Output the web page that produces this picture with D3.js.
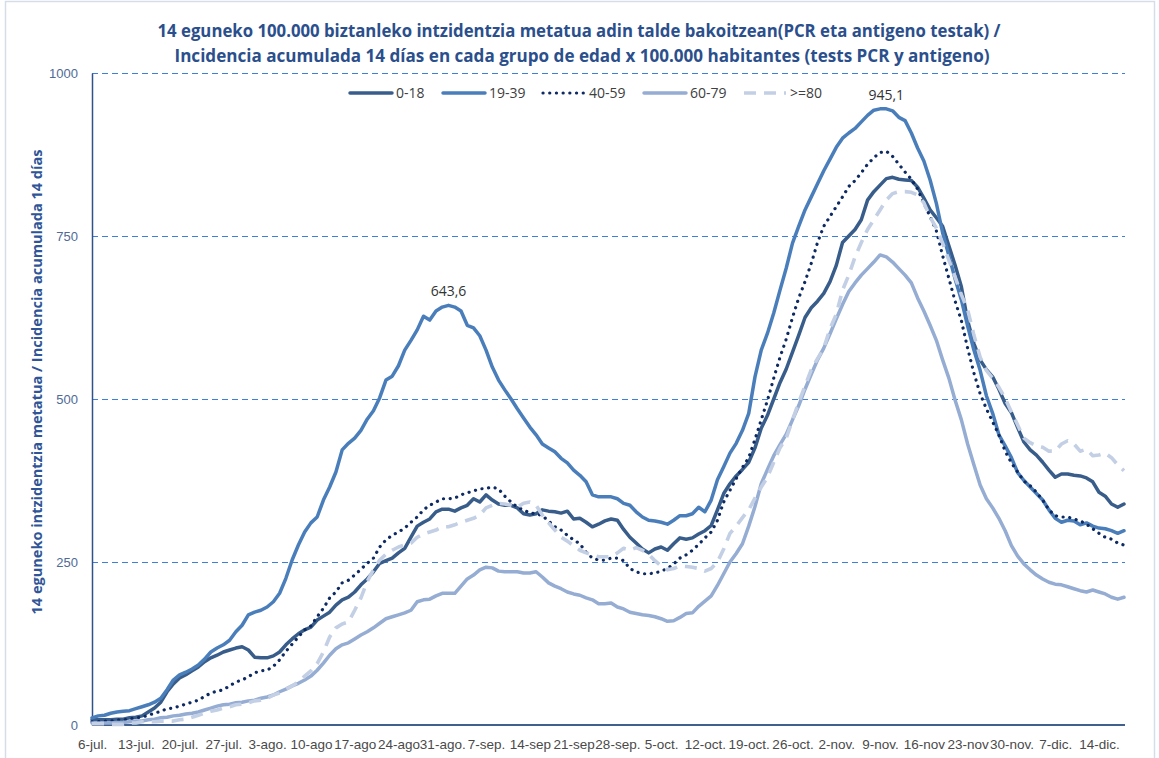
<!DOCTYPE html>
<html>
<head>
<meta charset="utf-8">
<script src="https://cdn.jsdelivr.net/npm/d3@7"></script>
<style>
  body { margin: 0; background: #fff; }
  svg { display: block; }
</style>
</head>
<body>
<div class="svg-container"></div>
<script>
// --- data (14-day incidence per 100.000, daily from 6-jul) ---
const seriesNames = ["0-18", "19-39", "40-59", "60-79", ">=80"];

const s0_18 = [8,8,8,8,9,9,11,12,14,20,
  26,35,51,63,72,77,83,89,97,103,
  107,112,115,118,120,115,104,103,103,106,
  112,123,132,140,146,150,161,167,173,184,
  192,196,204,215,224,235,248,252,256,264,
  271,288,305,311,316,327,331,331,328,333,
  337,347,342,353,345,339,337,337,333,324,
  322,324,330,328,327,325,328,316,317,311,
  304,308,313,316,314,300,
  288,279,270,264,270,273,268,278,287,285,287,293,298,306,
  330,355,370,382,392,403,425,455,475,500,525,546,572,598,625,640,650,662,680,705,740,750,760,775,805,818,
  828,838,840,837,836,835,825,808,790,778,765,735,705,672,620,585,560,545,534,515,493,
  479,456,434,422,414,403,391,380,385,385,383,382,379,373,357,351,339,334,339];

const s19_39 = [11,14,15,18,20,21,22,25,28,31,
  35,41,54,69,77,81,86,92,101,112,
  118,123,130,143,153,169,173,176,181,189,
  202,225,253,276,296,310,319,345,365,388,
  422,432,440,452,469,482,502,529,535,551,
  575,590,606,627,621,635,641,643.6,641,635,
  613,609,597,575,549,529,514,500,485,471,
  457,445,431,425,419,409,402,391,383,373,
  353,350,350,350,347,340,
  337,327,319,314,313,311,308,314,321,321,324,334,327,345,
  376,396,417,432,452,478,534,575,601,632,667,701,739,765,790,810,830,850,868,886,900,908,915,925,935,943,
  945,945.1,942,932,927,908,885,865,836,800,755,720,684,652,612,575,544,505,478,445,428,
  410,387,375,365,355,345,330,317,311,314,313,307,310,305,302,301,298,294,298];

const s40_59 = [5,5,6,6,8,8,9,11,12,15,
  18,21,25,26,29,32,35,38,44,49,
  52,54,60,66,69,74,80,83,84,90,
  100,113,124,135,146,152,166,179,195,204,
  218,222,230,239,248,256,273,284,291,296,
  302,311,319,330,337,342,347,347,348,353,
  356,359,362,363,365,362,351,342,334,330,
  325,324,321,313,304,299,291,284,278,265,
  256,253,253,256,256,252,
  240,235,232,232,233,236,240,247,256,261,268,277,287,296,
  314,342,360,378,395,410,438,468,498,532,564,592,625,655,680,708,740,765,780,795,810,826,835,847,860,870,
  878,880,872,860,848,837,822,800,780,758,720,685,650,620,578,540,508,485,465,445,420,
  402,388,374,367,357,345,330,321,319,319,316,313,308,301,294,288,285,279,276];

const s60_79 = [3,3,3,3,4,4,5,6,6,8,
  9,11,12,14,15,17,18,20,23,26,
  29,31,32,34,35,37,38,41,43,46,
  51,55,60,64,69,75,84,95,107,117,
  123,126,132,138,143,149,156,163,166,169,
  172,176,189,192,193,198,202,202,202,213,
  224,230,238,242,241,236,235,235,235,233,
  233,235,227,218,213,209,204,201,199,195,
  192,186,186,187,181,178,
  173,171,169,168,166,163,159,160,165,171,172,182,190,198,
  214,232,250,263,278,305,335,370,392,413,430,446,468,490,515,538,560,578,600,623,645,665,678,690,700,710,
  721,718,710,700,690,678,655,635,613,590,560,532,498,468,431,399,368,347,333,317,298,
  275,259,247,238,230,224,219,216,215,212,209,206,204,207,204,201,196,193,196];

const s80 = [2,2,2,1,1,1,3,3,5,5,
  5,6,6,6,8,9,12,15,18,21,
  23,26,28,31,32,34,37,38,41,46,
  49,55,60,66,75,83,94,112,135,149,
  155,158,176,195,220,238,253,262,268,273,
  276,279,288,293,296,299,304,304,307,311,
  314,317,322,333,337,340,339,337,334,340,
  342,337,322,310,299,288,282,275,268,264,
  261,258,258,258,264,271,
  268,272,268,262,252,244,238,240,244,243,242,240,236,240,
  250,270,294,305,318,330,348,365,380,403,425,440,468,495,520,545,562,578,608,630,667,690,718,740,760,775,
  790,805,815,818,818,817,813,801,779,762,739,713,687,660,637,598,564,544,532,518,501,
  480,460,440,433,428,426,420,420,431,436,431,420,423,413,414,417,410,399,390];

const tickLabels = ["6-jul.","13-jul.","20-jul.","27-jul.","3-ago.","10-ago","17-ago","24-ago",
  "31-ago.","7-sep.","14-sep","21-sep","28-sep.","5-oct.","12-oct.","19-oct.","26-oct.",
  "2-nov.","9-nov.","16-nov","23-nov","30-nov.","7-dic.","14-dic."];
const yTicks = [0, 250, 500, 750, 1000];
const peakLabels = [{serie: 1, text: "643,6", idx: 57}, {serie: 1, text: "945,1", idx: 127}];

const startDay = new Date(2020, 6, 6);
const days = d3.range(s0_18.length).map(i => d3.timeDay.offset(startDay, i));
const allSeries = [s0_18, s19_39, s40_59, s60_79, s80];

// --- chart ---
const width = 1159, height = 758;
const svg = d3.select(".svg-container").append("svg")
  .attr("width", width).attr("height", height);

svg.append("rect").attr("x", 5.5).attr("y", 1.5).attr("width", 1149).attr("height", 760)
  .attr("fill", "none").attr("stroke", "#d5dde9").attr("stroke-width", 1.5);

const x = d3.scaleTime().domain([days[0], days[days.length - 1]]).range([92, 1124]);
const y = d3.scaleLinear().domain([0, 1000]).range([725, 73]);

// gridlines
svg.append("g").selectAll("line")
  .data(yTicks.filter(d => d > 0))
  .enter().append("line")
  .attr("x1", 92).attr("x2", 1125)
  .attr("y1", d => y(d) + 0.5).attr("y2", d => y(d) + 0.5)
  .attr("stroke", "#3f7fdc").attr("stroke-width", 1)
  .attr("shape-rendering", "crispEdges")
  .attr("stroke-dasharray", "6 4");

// y axis
const yAxis = svg.append("g").attr("transform", "translate(92,0)")
  .call(d3.axisLeft(y).tickValues(yTicks).tickSize(0).tickPadding(14).tickFormat(d3.format("d")));
yAxis.select(".domain").attr("stroke", "#2f5289").attr("stroke-width", 1.5);
yAxis.selectAll("text").attr("font-family", "Liberation Sans Narrow, Arial Narrow, sans-serif")
  .attr("font-size", "13px").attr("fill", "#4f6a96");

// x axis
const tickDays = tickLabels.map((t, i) => days[i * 7]);
const xAxis = svg.append("g").attr("transform", "translate(0,725)")
  .call(d3.axisBottom(x).tickValues(tickDays).tickSize(0).tickPadding(14)
    .tickFormat((d, i) => tickLabels[i]));
xAxis.select(".domain").attr("d", "M92,0H1125").attr("stroke", "#40608e").attr("stroke-width", 2);
xAxis.selectAll("text").attr("font-family", "Liberation Sans Narrow, Arial Narrow, sans-serif")
  .attr("font-size", "13.5px").attr("fill", "#4a4a4a");

// lines
const styles = [
  {color: "#385d8a", w: 3.5, dash: null, cap: "round"},
  {color: "#4a7ebb", w: 3.5, dash: null, cap: "round"},
  {color: "#0e2a63", w: 3.2, dash: "0.1 6.6", cap: "round"},
  {color: "#95acd3", w: 3.5, dash: null, cap: "round"},
  {color: "#c3cfe4", w: 3.6, dash: "12 8", cap: "butt"}
];
const line = d3.line().x((d, i) => x(days[i])).y(d => y(d));

svg.append("g").selectAll("path")
  .data(allSeries)
  .enter().append("path")
  .attr("d", d => line(d))
  .attr("fill", "none")
  .attr("stroke", (d, i) => styles[i].color)
  .attr("stroke-width", (d, i) => styles[i].w)
  .attr("stroke-dasharray", (d, i) => styles[i].dash)
  .attr("stroke-linecap", (d, i) => styles[i].cap)
  .attr("stroke-linejoin", "round");

// peak labels
svg.append("g").selectAll("text")
  .data(peakLabels)
  .enter().append("text")
  .attr("x", d => x(days[d.idx]))
  .attr("y", d => y(allSeries[d.serie][d.idx]) - 9)
  .attr("text-anchor", "middle")
  .attr("font-family", "Open Sans, sans-serif").attr("font-size", "14px").attr("fill", "#333")
  .text(d => d.text);

// legend
const legendX = [350, 443, 543, 644, 744];
const lg = svg.append("g").selectAll("g")
  .data(seriesNames)
  .enter().append("g")
  .attr("transform", (d, i) => "translate(" + legendX[i] + ",93)");
lg.append("line").attr("x1", 0).attr("x2", 42).attr("y1", 0).attr("y2", 0)
  .attr("stroke", (d, i) => styles[i].color)
  .attr("stroke-width", (d, i) => styles[i].w)
  .attr("stroke-dasharray", (d, i) => styles[i].dash)
  .attr("stroke-linecap", (d, i) => styles[i].cap);
lg.append("text").attr("x", 46).attr("y", 0).attr("dy", "0.35em")
  .attr("font-family", "Open Sans, sans-serif").attr("font-size", "14px").attr("fill", "#404040")
  .text(d => d);

// titles
svg.append("text").attr("x", 579).attr("y", 37).attr("text-anchor", "middle")
  .attr("font-family", "Open Sans, sans-serif").attr("font-weight", "bold").attr("font-size", "17px")
  .attr("fill", "#2b4f8c").attr("textLength", 843).attr("lengthAdjust", "spacingAndGlyphs")
  .text("14 eguneko 100.000 biztanleko intzidentzia metatua adin talde bakoitzean(PCR eta antigeno testak) /");
svg.append("text").attr("x", 582).attr("y", 62).attr("text-anchor", "middle")
  .attr("font-family", "Open Sans, sans-serif").attr("font-weight", "bold").attr("font-size", "17px")
  .attr("fill", "#2b4f8c").attr("textLength", 815).attr("lengthAdjust", "spacingAndGlyphs")
  .text("Incidencia acumulada 14 días en cada grupo de edad x 100.000 habitantes (tests PCR y antigeno)");

svg.append("text")
  .attr("transform", "translate(42,382) rotate(-90)")
  .attr("text-anchor", "middle")
  .attr("font-family", "Open Sans, sans-serif").attr("font-weight", "bold").attr("font-size", "15px")
  .attr("fill", "#2f5597").attr("textLength", 465).attr("lengthAdjust", "spacingAndGlyphs")
  .text("14 eguneko intzidentzia metatua / Incidencia acumulada 14 días");
</script>
</body>
</html>
